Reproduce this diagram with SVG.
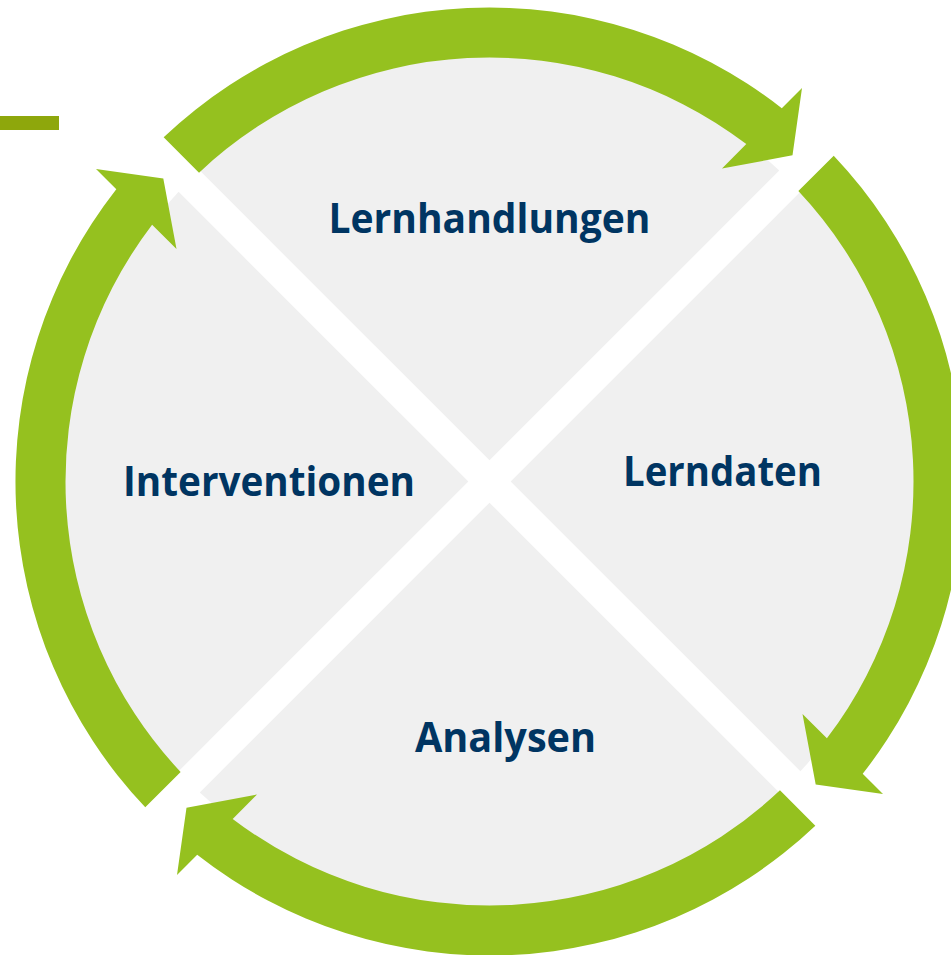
<svg xmlns="http://www.w3.org/2000/svg" width="951" height="955" viewBox="0 0 951 955">
  <style>
    .quad { fill: #f0f0f0; }
    .arc { fill: #95c11f; }
    .lbl { font-family: "Open Sans", "Noto Sans", "Liberation Sans", sans-serif; font-weight: 700; font-size: 42px; fill: #003562; text-anchor: middle; }
  </style>
  <defs>
    <path id="quadShape" d="M 0,-21.2 L 289.73,-310.93 A 425 425 0 0 0 -289.73,-310.93 Z"/>
    <path id="arcShape" d="M -325.84,-344.24 A 474 474 0 0 1 292.3,-373.2 L 312.5,-393.5 L 303,-326.2 L 232.5,-313 L 256.8,-337.4 A 424 424 0 0 0 -290.47,-308.87 Z"/>
  </defs>
  <rect width="951" height="955" fill="#ffffff"/>
  <rect id="accent-bar" x="0" y="116" width="59" height="14" fill="#8ea70c"/>
  <g transform="translate(489.5,481.5)">
    <g id="node-lernhandlungen">
      <use href="#quadShape" class="quad"/>
      <text class="lbl" x="0" y="-248.5" textLength="322" lengthAdjust="spacingAndGlyphs">Lernhandlungen</text>
    </g>
    <g id="node-lerndaten">
      <use href="#quadShape" class="quad" transform="rotate(90)"/>
      <text class="lbl" x="233" y="4.5" textLength="199" lengthAdjust="spacingAndGlyphs">Lerndaten</text>
    </g>
    <g id="node-analysen">
      <use href="#quadShape" class="quad" transform="rotate(180)"/>
      <text class="lbl" x="16" y="270" textLength="181" lengthAdjust="spacingAndGlyphs">Analysen</text>
    </g>
    <g id="node-interventionen">
      <use href="#quadShape" class="quad" transform="rotate(270)"/>
      <text class="lbl" x="-220.5" y="14.5" textLength="292" lengthAdjust="spacingAndGlyphs">Interventionen</text>
    </g>
    <g id="connectors">
      <use href="#arcShape" class="arc"/>
      <use href="#arcShape" class="arc" transform="rotate(90)"/>
      <use href="#arcShape" class="arc" transform="rotate(180)"/>
      <use href="#arcShape" class="arc" transform="rotate(270)"/>
    </g>
  </g>
</svg>
